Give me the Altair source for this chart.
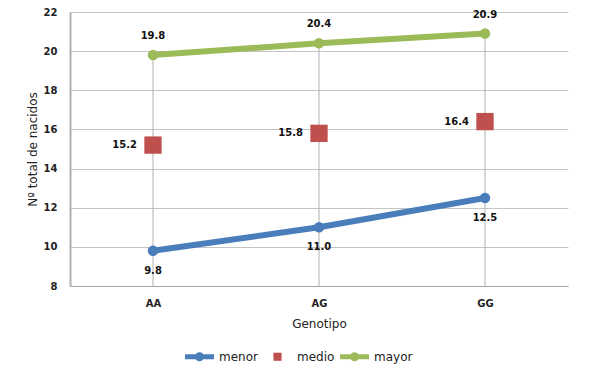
import altair as alt
import pandas as pd

genotipos = ["AA", "AG", "GG"]
series = ["menor", "medio", "mayor"]
menor = [9.8, 11.0, 12.5]
medio = [15.2, 15.8, 16.4]
mayor = [19.8, 20.4, 20.9]
colors = ["#4a7ebb", "#c0504d", "#9bbb59"]

rows = []
for name, vals in zip(series, [menor, medio, mayor]):
    for g, v in zip(genotipos, vals):
        rows.append({"Genotipo": g, "serie": name, "valor": v, "label": f"{v:.1f}"})
df = pd.DataFrame(rows)

FONT = "DejaVu Sans"

x = alt.X("Genotipo:N", sort=genotipos, scale=alt.Scale(type="point", padding=0.5),
          axis=alt.Axis(title="Genotipo", labelAngle=0, labelFontWeight="bold", labelFontSize=10,
                        labelPadding=12, titleFontSize=12, titleFontWeight="normal", titlePadding=10,
                        ticks=False, domainColor="#a6a6a6", grid=False, labelColor="#222",
                        titleColor="#222"))
yscale = alt.Scale(domain=[8, 22], nice=False, zero=False)
yaxis = alt.Axis(title="Nº total de nacidos", values=list(range(8, 23, 2)), labelFontWeight="bold",
                 labelFontSize=10, labelPadding=13, ticks=False, domainColor="#b0b0b0",
                 domainWidth=2, gridColor="#c4c4c4", titleFontSize=12, titleFontWeight="normal",
                 titlePadding=4, labelColor="#222", titleColor="#222", labelOverlap=False)
y = alt.Y("valor:Q", scale=yscale, axis=yaxis)

line_sym = ("M-1,-0.17 L1,-0.17 L1,0.17 L-1,0.17 Z "
            "M0.31,0 A0.31,0.31 0 1,1 -0.31,0 A0.31,0.31 0 1,1 0.31,0 Z")
sq_sym = "M-0.28,-0.28 L0.28,-0.28 L0.28,0.28 L-0.28,0.28 Z"

cscale = alt.Scale(domain=series, range=colors)
leg = alt.Legend(title=None, orient="none", direction="horizontal",
                 legendX=115, legendY=330, symbolSize=841, symbolOpacity=1,
                 symbolStrokeWidth=0, labelFontSize=12, labelFont=FONT,
                 labelOffset=5, columnPadding=5, labelColor="#222")
color_noleg = alt.Color("serie:N", scale=cscale, legend=None)

base = alt.Chart(df)

drop = base.transform_aggregate(top="max(valor)", groupby=["Genotipo"]).mark_rule(
    color="#b0b0b0", strokeWidth=1).encode(
    x=x, y=alt.Y("top:Q", scale=yscale, axis=yaxis), y2=alt.datum(8))

lines = base.transform_filter(alt.datum.serie != "medio").mark_line(strokeWidth=6).encode(
    x=x, y=y, color=color_noleg, detail="serie:N")

circles = base.transform_filter(alt.datum.serie != "medio").mark_circle(size=110, opacity=1).encode(
    x=x, y=y, color=color_noleg)

squares = base.transform_filter(alt.datum.serie == "medio").mark_square(size=300, opacity=1).encode(
    x=x, y=y, color=color_noleg)

legend_layer = base.mark_point(filled=True, opacity=0).encode(
    x=x, y=y,
    color=alt.Color("serie:N", scale=cscale, sort=series, legend=leg),
    shape=alt.Shape("serie:N", scale=alt.Scale(domain=series, range=[line_sym, sq_sym, line_sym]),
                    sort=series, legend=leg))

def labels(name, **kw):
    return base.transform_filter(alt.datum.serie == name).mark_text(
        fontWeight="bold", fontSize=10, font=FONT, color="#111", **kw).encode(x=x, y=y, text="label:N")

lab_menor = labels("menor", dy=20)
lab_medio = labels("medio", dx=-16, align="right")
lab_mayor = labels("mayor", dy=-19)

chart = alt.layer(drop, lines, circles, squares, legend_layer, lab_menor, lab_medio, lab_mayor).resolve_scale(
    color="independent", shape="independent"
).properties(
    width=498, height=274,
    autosize=alt.AutoSizeParams(type="none"),
    padding={"left": 62, "top": 4, "right": 34, "bottom": 80},
).configure_view(stroke=None).configure_axis(labelFont=FONT, titleFont=FONT)

chart.save("out.html", embed_options={"renderer": "svg", "actions": False})
